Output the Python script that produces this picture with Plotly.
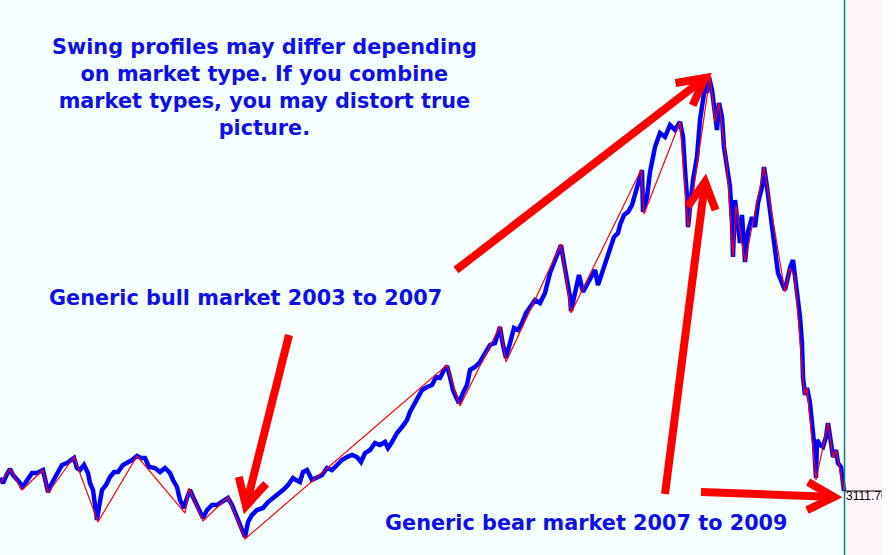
import plotly.graph_objects as go
import math

# ---------------- data (bar index, price) ----------------
bars = [0, 3, 7, 10, 13, 17, 20, 22, 27, 32, 37, 43, 46, 48, 52, 57, 62, 67, 74, 77,
        80, 84, 88, 90, 93, 95, 97, 99, 102, 106, 110, 114, 118, 123, 127, 132, 137, 141, 145, 149,
        155, 160, 165, 170, 173, 177, 180, 184, 187, 190, 193, 197, 201, 203, 207, 212, 217, 222, 228, 232,
        236, 240, 243, 245, 248, 252, 257, 263, 268, 273, 278, 283, 288, 293, 296, 300, 303, 307, 312, 317,
        322, 327, 332, 337, 342, 347, 352, 357, 361, 365, 370, 375, 380, 385, 388, 392, 397, 402, 407, 410,
        414, 418, 422, 427, 432, 436, 440, 444, 447, 450, 453, 456, 459, 463, 467, 470, 475, 480, 485, 490,
        495, 500, 503, 506, 510, 514, 518, 522, 526, 530, 535, 540, 545, 550, 554, 558, 561, 564, 567, 570,
        571, 575, 579, 583, 587, 591, 595, 598, 602, 606, 610, 614, 618, 620, 624, 628, 632, 636, 639, 642,
        643, 645, 647, 650, 655, 660, 665, 670, 675, 680, 683, 685, 687, 688, 690, 693, 697, 700, 703, 705,
        707, 709, 712, 715, 717, 719, 722, 724, 727, 730, 732, 733, 735, 737, 740, 742, 745, 748, 752, 755,
        758, 762, 764, 767, 770, 773, 776, 778, 782, 785, 788, 790, 793, 795, 798, 800, 802, 803, 805, 807,
        810, 812, 814, 816, 817, 820, 823, 826, 828, 831, 833, 836, 838, 841, 843, 844]

prices = [3242, 3192, 3282, 3332, 3272, 3222, 3192, 3142, 3222, 3292, 3292, 3322, 3192, 3102, 3192, 3272, 3372, 3392, 3442, 3342,
          3322, 3372, 3292, 3192, 3122, 2972, 2822, 2952, 3122, 3172, 3252, 3302, 3302, 3372, 3392, 3422, 3462, 3442, 3442, 3352,
          3342, 3302, 3342, 3292, 3222, 3152, 3022, 2942, 3042, 3122, 3052, 2972, 2902, 2842, 2922, 2972, 2972, 3002, 3042, 2972,
          2872, 2802, 2722, 2652, 2802, 2872, 2922, 2942, 3002, 3042, 3072, 3122, 3172, 3242, 3222, 3202, 3302, 3322, 3222, 3242,
          3272, 3342, 3322, 3372, 3422, 3452, 3472, 3452, 3402, 3492, 3522, 3592, 3572, 3602, 3542, 3602, 3692, 3752, 3822, 3902,
          3972, 4042, 4122, 4152, 4172, 4252, 4242, 4322, 4362, 4252, 4122, 4052, 3992, 4092, 4172, 4322, 4352, 4402, 4492, 4572,
          4592, 4752, 4572, 4442, 4592, 4742, 4722, 4792, 4892, 4952, 5022, 4992, 5092, 5292, 5392, 5472, 5572, 5392, 5222, 5052,
          4912, 5122, 5272, 5102, 5172, 5252, 5322, 5172, 5292, 5422, 5552, 5652, 5692, 5772, 5872, 5902, 5972, 6122, 6242, 6322,
          5902, 5972, 6052, 6302, 6552, 6692, 6652, 6772, 6722, 6802, 6652, 6322, 6052, 5752, 5922, 6222, 6452, 6822, 7022, 7152,
          7092, 7252, 7122, 6822, 6722, 6992, 6852, 6552, 6352, 6152, 5792, 5452, 6022, 5822, 5592, 5872, 5402, 5702, 5852, 5752,
          5992, 6152, 6352, 6152, 5922, 5692, 5452, 5292, 5192, 5122, 5252, 5342, 5422, 5252, 5092, 4852, 4592, 4252, 4072, 4142,
          3992, 3792, 3592, 3242, 3622, 3572, 3552, 3652, 3792, 3592, 3452, 3522, 3392, 3352, 3192, 3111.7]

swing_bars = [0, 10, 22, 43, 48, 74, 98, 137, 185, 189, 203, 228, 245, 447, 460, 500, 506, 561, 571, 641,
              644, 680, 688, 710, 715, 719, 727, 733, 736, 745, 764, 785, 790, 795, 803, 805, 807, 816, 828, 833,
              836, 844]
swing_prices = [3192, 3332, 3122, 3322, 3092, 3452, 2802, 3462, 2892, 3142, 2812, 3052, 2632, 4372, 3962, 4762, 4402, 5582, 4892, 6322,
                5882, 6802, 5742, 7262, 6802, 6992, 6352, 5452, 5972, 5402, 6352, 5102, 5342, 5242, 4222, 4072, 4142, 3222, 3792, 3442,
                3522, 3111.7]

last_label = "3111.70"

# ---------------- layout geometry ----------------
W, H = 896, 555
PW = 882          # plot area width (px)
XMAX = 882
YMIN, YMAX = 2472, 8022
AXIS_X = 844.5    # price-axis separator

BLUE_TXT = "#1010E6"
RED = "#FF0000"


def px(xp):
    return xp / PW


def py(yp):
    return 1 - yp / H


fig = go.Figure()

fig.add_trace(go.Scatter(x=bars, y=prices, mode="lines",
                         line=dict(color="#0000FF", width=4.5), hoverinfo="skip"))
fig.add_trace(go.Scatter(x=swing_bars, y=swing_prices, mode="lines",
                         line=dict(color=RED, width=1.2), hoverinfo="skip"))
fig.add_trace(go.Scatter(x=[bars[-1] + 2], y=[prices[-1]], mode="text",
                         text=[last_label], textposition="bottom right",
                         textfont=dict(family="Liberation Sans, Arial", size=12, color="black"),
                         cliponaxis=True, hoverinfo="skip"))

shapes = []
# price-axis area
shapes.append(dict(type="rect", xref="x", yref="paper", x0=AXIS_X, x1=XMAX, y0=0, y1=1,
                   fillcolor="#FFF4FA", line=dict(width=0), layer="below"))
shapes.append(dict(type="line", xref="x", yref="paper", x0=AXIS_X, x1=AXIS_X, y0=0, y1=1,
                   line=dict(color="#008080", width=1.5)))
shapes.append(dict(type="line", xref="x", yref="y", x0=AXIS_X, x1=XMAX, y0=prices[-1], y1=prices[-1],
                   line=dict(color="black", width=1)))

# arrows (pixel tail -> tip)
arrows = [((289, 335), (246, 506)),
          ((456, 270), (705, 78)),
          ((665, 494), (705, 182)),
          ((701, 492), (834, 497))]
for (tx, ty), (hx, hy) in arrows:
    dx, dy = tx - hx, ty - hy
    L = math.hypot(dx, dy)
    ux, uy = dx / L, dy / L
    shapes.append(dict(type="line", xref="paper", yref="paper",
                       x0=px(tx), y0=py(ty), x1=px(hx + ux * 6), y1=py(hy + uy * 6),
                       line=dict(color=RED, width=8)))
    pts = []
    for ang in (28, -28):
        a = math.radians(ang)
        bx = ux * math.cos(a) - uy * math.sin(a)
        by = ux * math.sin(a) + uy * math.cos(a)
        pts.append((hx + bx * 30, hy + by * 30))
    path = "M {:.5f},{:.5f} L {:.5f},{:.5f} L {:.5f},{:.5f}".format(
        px(pts[0][0]), py(pts[0][1]), px(hx), py(hy), px(pts[1][0]), py(pts[1][1]))
    shapes.append(dict(type="path", xref="paper", yref="paper", path=path,
                       line=dict(color=RED, width=8)))

font_main = dict(family="DejaVu Sans", size=20.8, color=BLUE_TXT)
annotations = [
    dict(text="<b>Swing profiles may differ depending<br>on market type. If you combine<br>"
              "market types, you may distort true<br>picture.</b>",
         x=px(264), y=py(88), xref="paper", yref="paper", showarrow=False,
         align="center", xanchor="center", yanchor="middle", font=font_main),
    dict(text="<b>Generic bull market 2003 to 2007</b>",
         x=px(245), y=py(298), xref="paper", yref="paper", showarrow=False,
         xanchor="center", yanchor="middle", font=font_main),
    dict(text="<b>Generic bear market 2007 to 2009</b>",
         x=px(586), y=py(523), xref="paper", yref="paper", showarrow=False,
         xanchor="center", yanchor="middle", font=font_main),
]

fig.update_layout(
    width=W, height=H,
    margin=dict(l=0, r=W - PW, t=0, b=0),
    paper_bgcolor="white", plot_bgcolor="#F5FFFF",
    showlegend=False,
    xaxis=dict(range=[0, XMAX], visible=False, fixedrange=True),
    yaxis=dict(range=[YMIN, YMAX], visible=False, fixedrange=True),
    shapes=shapes, annotations=annotations,
)

fig.write_html("out.html", config={"displayModeBar": False},
               post_script="document.body.style.margin='0';document.body.style.overflow='hidden';")
